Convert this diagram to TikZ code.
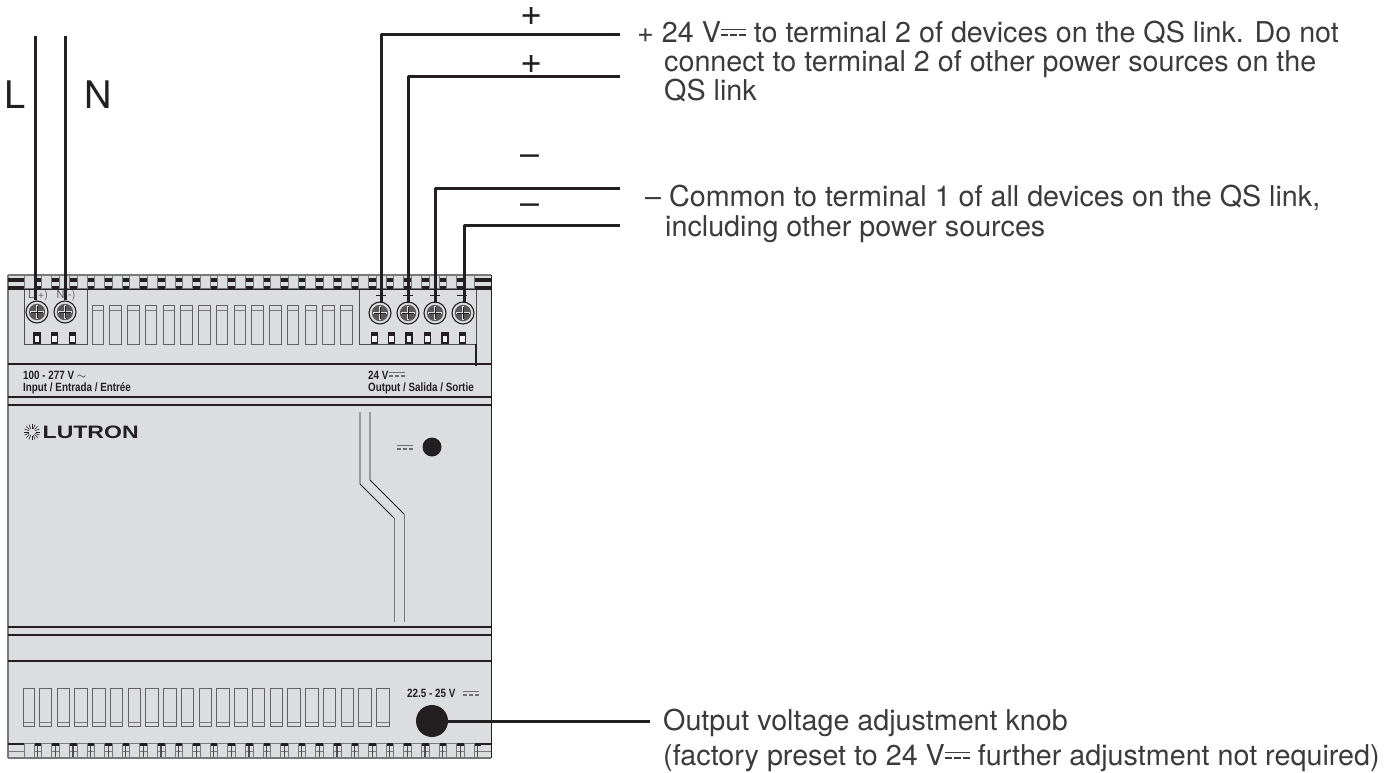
\documentclass[tikz,border=0pt]{standalone}
\usepackage{fontspec}
\setmainfont{TeX Gyre Heros}
\newfontfamily\condfont[FakeStretch=0.82]{Liberation Sans Bold}
\newfontfamily\widefont[FakeStretch=1.28]{Liberation Sans Bold}
\definecolor{panel}{HTML}{DCDDDF}
\definecolor{ink}{HTML}{231F20}
\definecolor{edge}{HTML}{77787B}
\tikzset{
  wire/.style={draw=ink,line width=3pt},
  band/.style={draw=ink,line width=2.8pt},
  note/.style={anchor=base west,inner sep=0pt,text=ink!88,font=\fontsize{28.7}{30}\selectfont},
  sign/.style={anchor=center,inner sep=0pt,text=ink,font=\fontsize{38}{38}\selectfont},
  small/.style={anchor=base west,inner sep=0pt,text=ink,font=\condfont\fontsize{12}{12}\selectfont},
  slot/.style={draw=ink!70,line width=1pt,fill=panel},
  tooth/.style={draw=edge,line width=0.9pt,fill=panel},
  tab/.style={draw=ink,line width=1.3pt,fill=panel!40!white},
  screwhead/.style={circle,draw=ink,line width=1.1pt,fill=panel,minimum size=22pt,inner sep=0pt},
  tiny/.style={anchor=center,inner sep=0pt,text=ink!70,font=\fontsize{11}{11}\selectfont},
}
\newcommand{\dcmark}[3]{% x,y,width
  \draw[line width=1.3pt,draw=ink!65] (#1,#2) -- ++(#3,0);
  \draw[line width=1.3pt,draw=ink!65,dash pattern=on 4pt off 2pt] (#1,#2+3.6) -- ++(#3,0);
}
\newcommand{\dcin}{\rlap{\raisebox{.42em}{\rule{25pt}{1.3pt}}}\raisebox{.22em}{\rule{7pt}{1.3pt}\kern2pt\rule{7pt}{1.3pt}\kern2pt\rule{7pt}{1.3pt}}}
\begin{document}
\begin{tikzpicture}[x=1pt,y=-1pt]
\useasboundingbox (0,0) rectangle (1395,772);
% body
\fill[panel] (8,275) rectangle (491,758);
\draw[edge,line width=1.8pt] (8,275) -- (8,758);
\draw[ink,line width=1pt] (491,275) -- (491,758);
\draw[edge,line width=1.4pt] (8,275) -- (491,275);
\draw[edge,line width=1.4pt] (8,758) -- (491,758);
% top band
\draw[band,line width=3.3pt] (8,280) -- (491,280);
\draw[band,line width=3.3pt] (8,288) -- (491,288);
\foreach \i in {0,...,25} {
  \draw[tooth] (24.3+17.6*\i,275) rectangle ++(10,13);
}
% terminal boxes
\draw[draw=ink!80,line width=0.9pt,fill=panel] (24,289.5) -- (24,344) -- (87,344) -- (87,289.5);
\draw[draw=ink!80,line width=0.9pt,fill=panel] (359,289.5) -- (359,344) -- (476,344) -- (476,289.5);
\draw[ink,line width=1.1pt] (476,344) -- (476,366);
\foreach \x in {92,109.75,...,343} {
  \draw[slot] (\x,305) rectangle ++(11.5,39);
  \draw[edge,line width=0.8pt] (\x,310) -- ++(11.5,0);
}
\foreach \x in {34,51.5,69.5,371.5,388.5,406,424.5,442,459.5} {
  \draw[tab] (\x,333) rectangle ++(6,10);
  \fill[ink] (\x,332.5) rectangle ++(6,3);
}
\foreach \x in {381,408,435,462} {
  \draw[ink,line width=0.7pt] (\x-5,295) -- (\x+5,295);
}
\node[tiny] (lp) at (38,296) {L(+)};
\node[tiny] (ln) at (66,296) {N(-)};
\foreach \n/\x/\y in {sa/37/312,sb/65/312,sc/380/313,sd/408/313,se/435/313,sf/463/313} {
  \node[screwhead] (\n) at (\x,\y) {};
  \fill[ink!75] (\x,\y) circle[radius=8.2pt];
  \draw[panel,line width=2.8pt] (\x-7,\y) -- (\x+7,\y) (\x,\y-7) -- (\x,\y+7);
  \draw[ink,line width=0.7pt] (\x-6,\y) -- (\x+6,\y) (\x,\y-6) -- (\x,\y+6);
}
% bands
\draw[ink,line width=1.3pt] (8,364) -- (491,364);
\draw[band] (8,397) -- (491,397);
\draw[band] (8,405) -- (491,405);
\draw[band] (8,627) -- (491,627);
\draw[band] (8,635) -- (491,635);
\draw[band] (8,661) -- (491,661);
% bottom band
\draw[ink,line width=1.3pt] (8,744) -- (491,744);
\draw[edge,line width=1pt] (8,751) -- (491,751);
\foreach \i in {0,...,25} {
  \fill[ink] (24.3+17.6*\i+9,743) rectangle ++(8,3);
  \draw[ink!80,line width=1.2pt] (24.3+17.6*\i+13.5,746) -- ++(0,11);
  \draw[tooth] (24.3+17.6*\i,743) rectangle ++(10,14.5);
}
\node[small] (inv) at (23,379) {100 - 277 V $\sim$};
\node[small] (int) at (23,391) {Input / Entrada / Entrée};
\node[small] (outv) at (368,379) {24 V};
\dcmark{389}{372.5}{16}
\node[small] (outt) at (368,391) {Output / Salida / Sortie};
% logo
\foreach \a in {0,22.5,...,359} {
  \draw[ink,line width=0.6pt] (32,432) ++(\a:3.5) -- ++(\a:4.5);
}
\node[anchor=base west,inner sep=0pt,text=ink,font=\widefont\fontsize{18}{18}\selectfont] (logo) at (42.5,438) {LUTRON};
% status
\dcmark{397}{445.5}{16}
\node[circle,fill=ink,minimum size=19pt,inner sep=0pt] (led) at (432,447) {};
\draw[ink,line width=0.9pt] (360,412) -- (360,484) -- (394,518);
\draw[ink,line width=0.9pt] (370,412) -- (370,480) -- (404,514);
\draw[edge,line width=1pt] (394,518) -- (394,622);
\draw[edge,line width=1pt] (404,514) -- (404,622);
% lower slots
\draw[slot] (23.5,688) rectangle ++(11,38);
\draw[edge,line width=0.8pt] (23.5,722) -- ++(11,0);
\foreach \x in {39.3,57.05,...,385} {
  \draw[slot] (\x,688) rectangle ++(12.5,38);
  \draw[edge,line width=0.8pt] (\x,722) -- ++(12.5,0);
}
\node[small] (adj) at (407,697) {22.5 - 25 V};
\dcmark{463}{691.5}{16}
\node[circle,fill=ink,minimum size=32pt,inner sep=0pt] (knob) at (432,721) {};
\coordinate (kend) at (650,721);
\draw[wire] (knob.center) -- (kend);
% wires
\coordinate (lt) at (35,36); \coordinate (nt) at (65,36);
\draw[wire] (lt) -- (lt |- sa.north);
\draw[wire] (nt) -- (nt |- sb.north);
\coordinate (w1) at (620,34.5); \coordinate (w2) at (620,76.7);
\coordinate (w3) at (620,188); \coordinate (w4) at (620,225);
\draw[wire,line join=round] (381,303) -- (381,34.5) -- (w1);
\draw[wire,line join=round] (408,303) -- (408,76.7) -- (w2);
\draw[wire,line join=round] (435,303) -- (435,188) -- (w3);
\draw[wire,line join=round] (464.5,303) -- (464.5,225) -- (w4);
% labels
\node[sign] (L) at (15,95) {L};
\node[sign] (N) at (98,95) {N};
\node[sign] (p1) at (532,16) {+};
\node[sign] (p2) at (532,64) {+};
\node[sign,font=\fontsize{34}{34}\selectfont] (m1) at (530,160) {--};
\node[sign,font=\fontsize{34}{34}\selectfont] (m2) at (530,209) {--};
\node[note] (t1) at (637,42) {+ 24 V\dcin\ to terminal 2 of devices on the QS link. Do not};
\node[note] (t2) at (664,71.5) {connect to terminal 2 of other power sources on the};
\node[note] (t3) at (664,100.5) {QS link};
\node[note] (t4) at (645,206) {-- Common to terminal 1 of all devices on the QS link,};
\node[note] (t5) at (665,236) {including other power sources};
\node[note] (t6) at (663,730) {Output voltage adjustment knob};
\node[note] (t7) at (663,765) {(factory preset to 24 V\dcin\ further adjustment not required)};
\end{tikzpicture}
\end{document}
